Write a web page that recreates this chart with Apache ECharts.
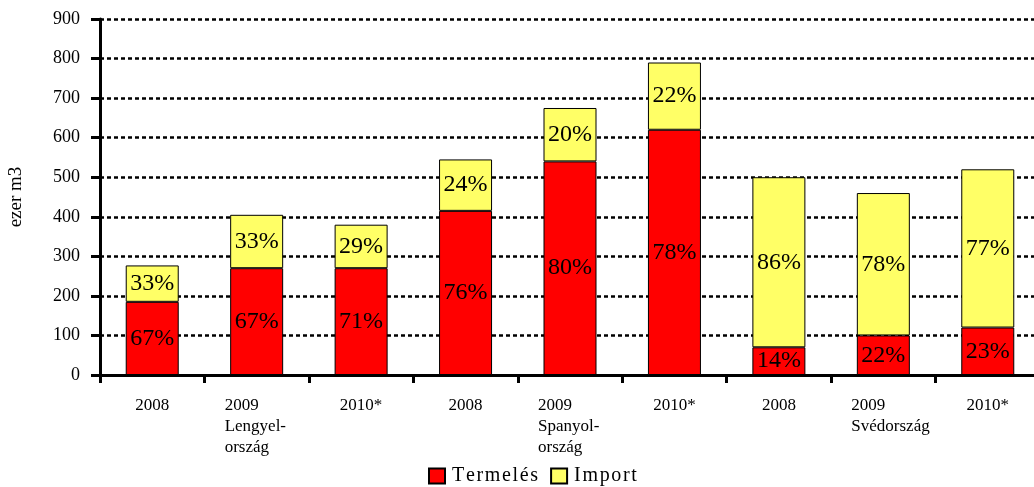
<!DOCTYPE html>
<html>
<head>
<meta charset="utf-8">
<script src="https://cdn.jsdelivr.net/npm/echarts@6/dist/echarts.min.js"></script>
<style>
  html, body { margin: 0; padding: 0; background: #fff; }
  #chart { width: 1034px; height: 487px; }
</style>
</head>
<body>
<div id="chart"></div>
<script>
// adatok (ezer m3)
const categories = ['2008', '2009\nLengyel-\nország', '2010*', '2008', '2009\nSpanyol-\nország', '2010*', '2008', '2009\nSvédország', '2010*']
const termeles = [185, 270, 270, 415, 540, 620, 70, 100, 120]
const importok = [92, 135, 110, 130, 135, 170, 430, 360, 400]
const termelesPct = ['67%', '67%', '71%', '76%', '80%', '78%', '14%', '22%', '23%']
const importPct = ['33%', '33%', '29%', '24%', '20%', '22%', '86%', '78%', '77%']
const yTicks = [0, 100, 200, 300, 400, 500, 600, 700, 800, 900]

const font = 'Liberation Serif'
const chart = echarts.init(document.getElementById('chart'))

// kicsit ritkitott betuk a jelmagyarazatban
function spaced(s) {
  return s.split('').join('\u200A')
}

chart.setOption({
  animation: false,
  backgroundColor: '#fff',
  textStyle: { fontFamily: font, color: '#000' },
  grid: {
    left: 100,
    top: 19,
    width: 940,
    bottom: 112,
    outerBoundsMode: 'none'
  },
  legend: {
    left: 428,
    top: 466,
    padding: 0,
    itemWidth: 16,
    itemHeight: 15,
    itemGap: 12,
    icon: 'rect',
    formatter: name => spaced(name),
    textStyle: { fontFamily: font, fontSize: 20, color: '#000', padding: [0, 0, 0, 2] },
    data: ['Termelés', 'Import']
  },
  xAxis: {
    type: 'category',
    data: categories,
    axisLine: { lineStyle: { color: '#000', width: 3 } },
    axisTick: { show: true, length: 8, lineStyle: { color: '#000', width: 3 } },
    axisLabel: {
      margin: 20,
      interval: 0,
      formatter: v => v.indexOf('\n') >= 0 ? '{b|' + v + '}' : '{a|' + v + '}',
      rich: {
        a: { fontFamily: font, fontSize: 17, color: '#000', lineHeight: 21 },
        b: { fontFamily: font, fontSize: 17, color: '#000', lineHeight: 21, width: 64, align: 'left' }
      }
    }
  },
  yAxis: {
    type: 'value',
    min: yTicks[0],
    max: yTicks[yTicks.length - 1],
    interval: 100,
    name: 'ezer m3',
    nameLocation: 'middle',
    nameRotate: 90,
    nameGap: 74,
    nameTextStyle: { fontFamily: font, fontSize: 19, color: '#000' },
    axisLine: { show: true, lineStyle: { color: '#000', width: 3 } },
    axisTick: { show: true, length: 9, lineStyle: { color: '#000', width: 3 } },
    axisLabel: {
      margin: 20,
      formatter: v => '{a|' + v + '}',
      rich: { a: { fontFamily: font, fontSize: 18, color: '#000' } }
    },
    splitLine: { lineStyle: { color: '#000', width: 2.5, type: [4, 3] } }
  },
  series: [
    {
      name: 'Termelés',
      type: 'bar',
      stack: 'total',
      barWidth: 53,
      data: termeles,
      itemStyle: { color: '#FF0000', borderColor: '#000', borderWidth: 1 },
      label: {
        show: true,
        position: 'inside',
        fontFamily: font,
        fontSize: 24,
        color: '#000',
        formatter: p => termelesPct[p.dataIndex]
      }
    },
    {
      name: 'Import',
      type: 'bar',
      stack: 'total',
      barWidth: 53,
      data: importok,
      itemStyle: { color: '#FFFF66', borderColor: '#000', borderWidth: 1 },
      label: {
        show: true,
        position: 'inside',
        fontFamily: font,
        fontSize: 24,
        color: '#000',
        formatter: p => importPct[p.dataIndex]
      }
    }
  ]
})
</script>
</body>
</html>
